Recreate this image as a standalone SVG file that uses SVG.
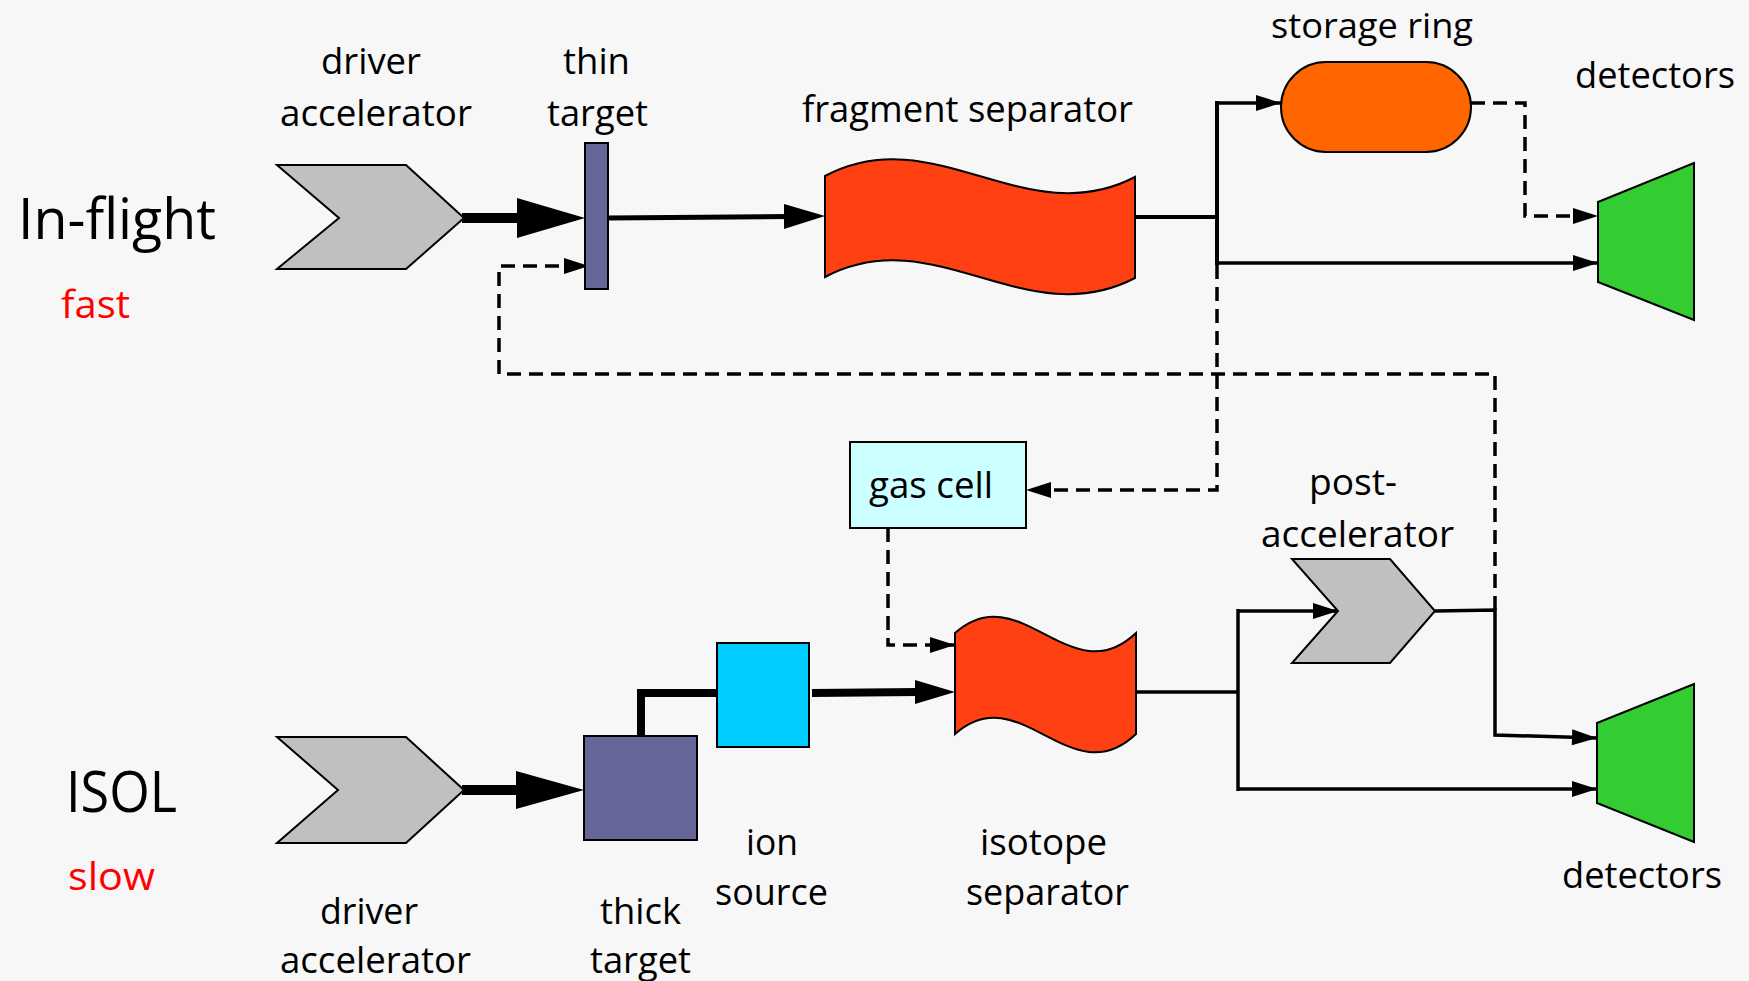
<svg xmlns="http://www.w3.org/2000/svg" width="1749" height="981" viewBox="0 0 1749 981">
<style>
.lbl{font-family:"Open Sans","Liberation Sans",sans-serif;font-size:37px;fill:#000;text-anchor:middle}
.big{font-family:"Open Sans","Liberation Sans",sans-serif;font-size:56px;fill:#000;text-anchor:middle}
.red{font-family:"Open Sans","Liberation Sans",sans-serif;font-size:38px;fill:#ff0000;text-anchor:middle}
.shape{stroke:#000;stroke-width:2}
.chev{fill:#c0c0c0}
.tgt{fill:#666699}
.sep{fill:#ff4013}
.det{fill:#33cc33}
.ln{fill:none;stroke:#000;stroke-width:3.5}
.dash{fill:none;stroke:#000;stroke-width:3.5;stroke-dasharray:14 8}
.arr{marker-end:url(#ah)}
</style>
<defs>
<marker id="ah" markerUnits="userSpaceOnUse" markerWidth="26" markerHeight="18" refX="25" refY="8" orient="auto" overflow="visible">
<path d="M0,0 L25,8 L0,16 Z" fill="#000" stroke="none"/>
</marker>
</defs>
<rect x="0" y="0" width="1749" height="981" fill="#f7f7f7"/>

<g id="connectors">
<line x1="462" y1="218" x2="520" y2="218" stroke="#000" stroke-width="10"/>
<polygon points="517,198 585,218 517,238" fill="#000"/>
<line x1="608" y1="218" x2="790" y2="216.5" stroke="#000" stroke-width="5"/>
<polygon points="784,204 825,216 784,229" fill="#000"/>
<line x1="1135" y1="217" x2="1217" y2="217" stroke="#000" stroke-width="4"/>
<line x1="1217" y1="101" x2="1217" y2="265" stroke="#000" stroke-width="4"/>
<polyline class="ln arr" points="1217,103 1281,103"/>
<polyline class="ln arr" points="1217,263 1598,263"/>
<polyline class="dash arr" points="1471,103 1525,103 1525,216 1598,216"/>
<polyline class="dash arr" points="1217,265 1217,490 1026,490"/>
<polyline class="dash arr" points="888,528 888,645 955,645"/>
<polyline class="dash arr" points="1495,610 1495,374 499,374 499,266 589,266"/>
<line x1="462" y1="790" x2="520" y2="790" stroke="#000" stroke-width="10"/>
<polygon points="516,771 584,790 516,809" fill="#000"/>
<polyline points="641,736 641,693 717,693" fill="none" stroke="#000" stroke-width="8"/>
<line x1="812" y1="693" x2="918" y2="692" stroke="#000" stroke-width="8"/>
<polygon points="915,680 955,692 915,704" fill="#000"/>
<line x1="1136" y1="692" x2="1238" y2="692" stroke="#000" stroke-width="3.5"/>
<line x1="1238" y1="609" x2="1238" y2="791" stroke="#000" stroke-width="3.5"/>
<polyline class="ln arr" points="1238,611 1338,611"/>
<polyline class="ln arr" points="1238,789 1597,789"/>
<polyline class="ln arr" points="1435,611 1495,610 1495,735 1597,738"/>
</g>

<g id="label-inflight">
<text class="big" x="117" y="239" textLength="198" lengthAdjust="spacingAndGlyphs">In-flight</text>
<text class="red" x="95.5" y="318" textLength="69" lengthAdjust="spacingAndGlyphs">fast</text>
</g>
<g id="label-isol">
<text class="big" x="121.5" y="812" textLength="111" lengthAdjust="spacingAndGlyphs">ISOL</text>
<text class="red" x="111.5" y="890" textLength="87" lengthAdjust="spacingAndGlyphs">slow</text>
</g>

<g id="driver-top">
<polygon class="shape chev" points="277,165 406,165 464,218 406,269 277,269 339,218"/>
<text class="lbl" x="371" y="74" textLength="100" lengthAdjust="spacingAndGlyphs">driver</text>
<text class="lbl" x="376" y="126" textLength="192" lengthAdjust="spacingAndGlyphs">accelerator</text>
</g>

<g id="thin-target">
<rect class="shape tgt" x="585" y="143" width="23" height="146"/>
<text class="lbl" x="596.5" y="74" textLength="67" lengthAdjust="spacingAndGlyphs">thin</text>
<text class="lbl" x="597.5" y="126" textLength="101" lengthAdjust="spacingAndGlyphs">target</text>
</g>

<g id="fragment-separator">
<path class="shape sep" d="M825,176 C935,118 1025,234 1135,177 L1135,278 C1025,335 935,219 825,277 Z"/>
<text class="lbl" x="967.5" y="122" textLength="331" lengthAdjust="spacingAndGlyphs">fragment separator</text>
</g>

<g id="storage-ring">
<rect class="shape" x="1281" y="62" width="190" height="90" rx="45" ry="45" fill="#ff6600"/>
<text class="lbl" x="1372" y="38" style="font-size:34px" textLength="202" lengthAdjust="spacingAndGlyphs">storage ring</text>
</g>

<g id="detectors-top">
<polygon class="shape det" points="1598,202 1694,163 1694,320 1598,282"/>
<text class="lbl" x="1655" y="88" textLength="160" lengthAdjust="spacingAndGlyphs">detectors</text>
</g>

<g id="gas-cell">
<rect class="shape" x="850" y="442" width="176" height="86" fill="#ccffff"/>
<text class="lbl" x="931" y="498" textLength="124" lengthAdjust="spacingAndGlyphs">gas cell</text>
</g>

<g id="driver-bottom">
<polygon class="shape chev" points="277,737 406,737 464,790 406,843 277,843 338,790"/>
<text class="lbl" x="369" y="924" textLength="98" lengthAdjust="spacingAndGlyphs">driver</text>
<text class="lbl" x="375.5" y="973" textLength="191" lengthAdjust="spacingAndGlyphs">accelerator</text>
</g>

<g id="thick-target">
<rect class="shape tgt" x="584" y="736" width="113" height="104"/>
<text class="lbl" x="640.5" y="924" textLength="81" lengthAdjust="spacingAndGlyphs">thick</text>
<text class="lbl" x="640.5" y="973" textLength="101" lengthAdjust="spacingAndGlyphs">target</text>
</g>

<g id="ion-source">
<rect class="shape" x="717" y="643" width="92" height="104" fill="#00ccff"/>
<text class="lbl" x="772" y="855" textLength="52" lengthAdjust="spacingAndGlyphs">ion</text>
<text class="lbl" x="771.5" y="905" textLength="113" lengthAdjust="spacingAndGlyphs">source</text>
</g>

<g id="isotope-separator">
<path class="shape sep" d="M955,633 C1020,575 1071,695 1136,633 L1136,734 C1071,796 1020,676 955,734 Z"/>
<text class="lbl" x="1043.5" y="855" textLength="127" lengthAdjust="spacingAndGlyphs">isotope</text>
<text class="lbl" x="1047.5" y="905" textLength="163" lengthAdjust="spacingAndGlyphs">separator</text>
</g>

<g id="post-accelerator">
<polygon class="shape chev" points="1292,559 1390,559 1435,611 1390,663 1292,663 1338,611"/>
<text class="lbl" x="1353" y="495" textLength="88" lengthAdjust="spacingAndGlyphs">post-</text>
<text class="lbl" x="1357.5" y="547" textLength="193" lengthAdjust="spacingAndGlyphs">accelerator</text>
</g>

<g id="detectors-bottom">
<polygon class="shape det" points="1597,723 1694,684 1694,842 1597,803"/>
<text class="lbl" x="1642" y="888" textLength="160" lengthAdjust="spacingAndGlyphs">detectors</text>
</g>
</svg>
